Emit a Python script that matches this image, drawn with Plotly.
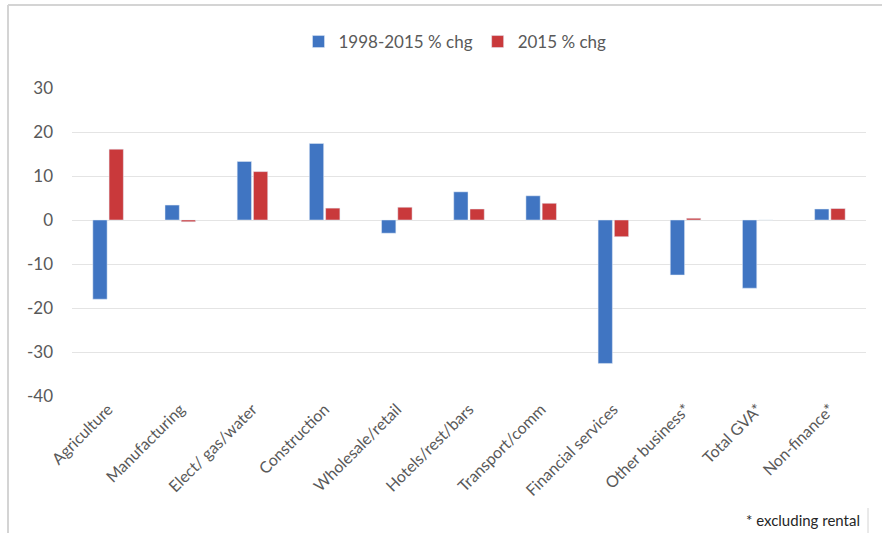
import plotly.graph_objects as go

categories = ["Agriculture", "Manufacturing", "Elect/ gas/water", "Construction",
              "Wholesale/retail", "Hotels/rest/bars", "Transport/comm",
              "Financial services", "Other business*", "Total GVA*", "Non-finance*"]
chg_1998_2015 = [-18.0, 3.4, 13.3, 17.4, -3.0, 6.4, 5.5, -32.6, -12.5, -15.5, 2.5]
chg_2015 = [16.1, -0.4, 11.0, 2.7, 2.9, 2.5, 3.8, -3.8, 0.4, 0.0, 2.6]
y_ticks = [-40, -30, -20, -10, 0, 10, 20, 30]
y_ticktext = ["-40", "-30", "-20", "-10", "0", "10", "20", "30"]

W, H = 882, 533
L, R, T, B = 72, 16, 88, 137
pw, ph = W - L - R, H - T - B

def px(x):
    return (x - L) / pw

def py(y):
    return (H - B - y) / ph

font = "Lato, Carlito, Calibri, sans-serif"
grey = "#595959"

fig = go.Figure()
fig.add_trace(go.Bar(x=categories, y=chg_1998_2015, name="1998-2015 % chg",
                     marker_color="#4075C2"))
fig.add_trace(go.Bar(x=categories, y=chg_2015, name="2015 % chg",
                     marker_color="#C9393B"))

fig.update_layout(
    width=W, height=H,
    margin=dict(l=L, r=R, t=T, b=B),
    paper_bgcolor="white", plot_bgcolor="white",
    barmode="group", bargap=0.55, bargroupgap=0.12,
    font=dict(family=font, color=grey, size=16),
    legend=dict(orientation="h", x=px(455), xanchor="center", y=py(42), yanchor="middle",
                font=dict(size=17, color=grey), itemwidth=30, traceorder="normal"),
    xaxis=dict(tickangle=-45, showgrid=False, showline=False, ticks="",
               tickfont=dict(size=16, color=grey)),
    yaxis=dict(range=[-40, 30], tickvals=y_ticks, ticktext=y_ticktext,
               showgrid=True, gridcolor="#E4E4E4",
               gridwidth=1, zeroline=True, zerolinecolor="#E4E4E4", zerolinewidth=1,
               tickfont=dict(size=17, color=grey), ticks="", ticklabelstandoff=18),
    shapes=[
        dict(type="line", xref="paper", yref="paper", x0=px(8), x1=px(8), y0=py(5), y1=py(533),
             line=dict(color="#D4D4D4", width=2)),
        dict(type="line", xref="paper", yref="paper", x0=px(8), x1=px(882), y0=py(5), y1=py(5),
             line=dict(color="#D4D4D4", width=2)),
        dict(type="line", xref="paper", yref="paper", x0=px(868), x1=px(868), y0=py(508), y1=py(533),
             line=dict(color="#D4D4D4", width=1)),
    ],
    annotations=[
        dict(text="* excluding rental", xref="paper", yref="paper", x=px(862), y=py(520),
             xanchor="right", yanchor="middle", showarrow=False,
             font=dict(size=15, color="#262626", family=font)),
    ],
)

fig.write_html("out.html")
